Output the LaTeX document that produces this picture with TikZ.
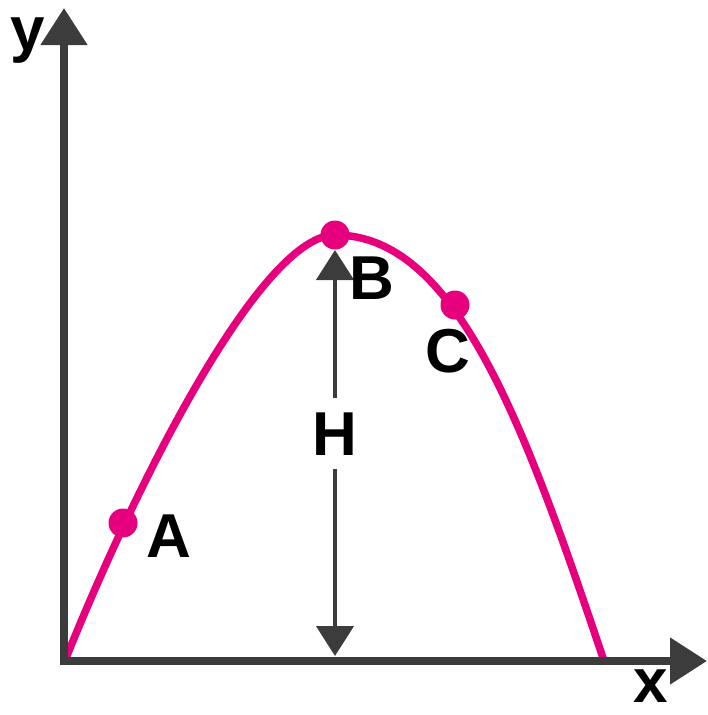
\documentclass[tikz,border=0pt]{standalone}
\usepackage{fontspec}
\setmainfont{Liberation Sans}
\usetikzlibrary{arrows.meta}
\definecolor{traj}{RGB}{231,0,125}
\definecolor{axisgray}{RGB}{60,60,60}
\tikzset{
  axisline/.style={draw=axisgray, line width=8pt, line join=miter,
    {Triangle[length=37pt,width=45pt]}-{Triangle[length=37pt,width=45pt]}},
  harrow/.style={draw=axisgray, line width=4.5pt,
    {Triangle[length=30pt,width=37pt]}-{Triangle[length=30pt,width=37pt]}},
  trajline/.style={draw=traj, line width=7.5pt},
  dot/.style={circle, fill=traj, inner sep=0pt, minimum size=29pt},
  lbl/.style={font=\fontsize{62}{62}\selectfont\bfseries, text=black, inner sep=0pt, anchor=base}
}
\begin{document}
\begin{tikzpicture}[x=1pt,y=-1pt]
\useasboundingbox (0,0) rectangle (707,715);
% trajectory
\draw[trajline] (66,658) .. controls (146,460) and (265,235) .. (335,235)
  .. controls (455,235) and (523,420) .. (603,658);
% axes
\coordinate (ytip) at (64,8);
\coordinate (origin) at (64,661);
\coordinate (xtip) at (707,661);
\draw[axisline] (ytip) -- (origin) -- (xtip);
% height arrow
\coordinate (hbot) at (335,656);
\coordinate (htop) at (335,250);
\draw[harrow] (hbot) -- (htop);
\node[lbl, fill=white, inner xsep=4pt, inner ysep=14pt] (H) at (335,455) {H};
% points
\node[dot] (A) at (123,523) {};
\node[dot] (B) at (335,235) {};
\node[dot] (C) at (455,305) {};
% labels
\node[lbl] (Alab) at (169,557) {A};
\node[lbl] (Blab) at (372,299) {B};
\node[lbl] (Clab) at (448,372) {C};
\node[lbl] (xlab) at (651,702) {x};
\node[lbl] (ylab) at (28,50) {y};
\end{tikzpicture}
\end{document}
